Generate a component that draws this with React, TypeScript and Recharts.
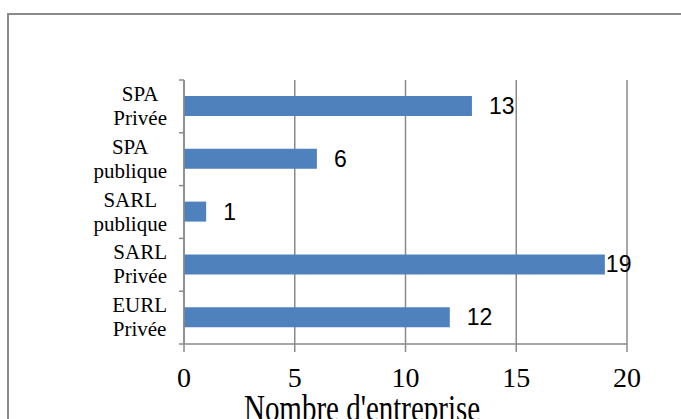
import React from 'react';
import { BarChart, Bar, XAxis, YAxis, CartesianGrid, LabelList } from 'recharts';

const categories = ['SPA Privée', 'SPA publique', 'SARL publique', 'SARL Privée', 'EURL Privée'];
const values = [13, 6, 1, 19, 12];
const xTicks = [0, 5, 10, 15, 20];
const axisTitle = "Nombre d'entreprise";

const data = categories.map((name, i) => ({ name, value: values[i] }));

const W = 681;
const H = 419;
const M = { top: 80, right: 54, bottom: 0, left: 0 };
const Y_W = 184;
const X_H = 75;
const PLOT_RIGHT = W - M.right;
const BAND = (H - M.top - M.bottom - X_H) / categories.length;
const GRAY = '#8a8a8a';
const SERIF = '"Liberation Serif", "Times New Roman", serif';
const SANS = '"Liberation Sans", Arial, sans-serif';
const Y_FONT = 21;

let measureCtx: CanvasRenderingContext2D | null = null;
function measure(text: string, font: string): number {
  if (typeof document === 'undefined') return text.length * 10;
  if (!measureCtx) measureCtx = document.createElement('canvas').getContext('2d');
  if (!measureCtx) return text.length * 10;
  measureCtx.font = font;
  return measureCtx.measureText(text).width;
}

const YTick = (props: any) => {
  const { x, y, payload, index } = props;
  const parts = String(payload.value).split(' ');
  const font = `${Y_FONT}px "Liberation Serif"`;
  const blockW = Math.max(...parts.map((p) => measure(p, font)));
  const right = x - 17;
  const cx = right - blockW / 2;
  return (
    <g>
      <line x1={x - 5} x2={x} y1={y - BAND / 2} y2={y - BAND / 2} stroke={GRAY} strokeWidth={1.5} />
      {index === categories.length - 1 && (
        <line x1={x - 5} x2={x} y1={y + BAND / 2} y2={y + BAND / 2} stroke={GRAY} strokeWidth={1.5} />
      )}
      <text x={cx} y={y - 5.5} textAnchor="middle" fontFamily={SERIF} fontSize={Y_FONT} fill="#000">
        {parts[0]}
      </text>
      <text x={cx} y={y + 18.5} textAnchor="middle" fontFamily={SERIF} fontSize={Y_FONT} fill="#000">
        {parts[1]}
      </text>
    </g>
  );
};

const XTick = (props: any) => {
  const { x, y, payload } = props;
  return (
    <text x={x} y={y + 35} textAnchor="middle" fontFamily={SERIF} fontSize={28} fill="#000">
      {payload.value}
    </text>
  );
};

const XTitle = (props: any) => {
  const vb = props.viewBox || {};
  const tx = vb.x + vb.width * 0.402;
  const ty = vb.y + 77;
  return (
    <text
      x={tx}
      y={ty}
      textAnchor="middle"
      fontFamily={SERIF}
      fontSize={29}
      fill="#000"
      transform={`translate(0 ${ty}) scale(1 1.3) translate(0 ${-ty})`}
    >
      {axisTitle}
    </text>
  );
};

const ValueLabel = (props: any) => {
  const { x, y, width, height, value } = props;
  const end = Number(x) + Number(width);
  const tw = String(value).length * 13;
  let lx = end + 17;
  if (lx + tw > PLOT_RIGHT + 3) lx = end + 1;
  return (
    <text x={lx} y={Number(y) + Number(height) / 2} dominantBaseline="central" fontFamily={SANS} fontSize={23} fill="#000">
      {value}
    </text>
  );
};

export default function App() {
  return (
    <div style={{ position: 'absolute', left: 0, top: 0, width: W, height: H, overflow: 'hidden', background: '#fff' }}>
      <div
        style={{
          position: 'absolute',
          left: 7,
          top: 13,
          width: 800,
          height: 600,
          border: `2px solid ${GRAY}`,
          boxSizing: 'border-box',
        }}
      />
      <div style={{ position: 'absolute', left: 0, top: 0 }}>
        <BarChart width={W} height={H} data={data} layout="vertical" margin={M}>
          <CartesianGrid horizontal={false} stroke={GRAY} strokeWidth={1.5} />
          <XAxis
            type="number"
            domain={[0, 20]}
            ticks={xTicks}
            interval={0}
            height={X_H}
            stroke={GRAY}
            strokeWidth={1.5}
            tickSize={8}
            tickMargin={0}
            tick={<XTick />}
            tickLine={{ stroke: GRAY, strokeWidth: 1.5 }}
            label={<XTitle />}
          />
          <YAxis
            type="category"
            dataKey="name"
            width={Y_W}
            stroke={GRAY}
            strokeWidth={1.5}
            tickLine={false}
            tickSize={0}
            tickMargin={0}
            tick={<YTick />}
            interval={0}
          />
          <Bar dataKey="value" fill="#4F81BD" barSize={20} isAnimationActive={false}>
            <LabelList dataKey="value" content={<ValueLabel />} />
          </Bar>
        </BarChart>
      </div>
    </div>
  );
}
